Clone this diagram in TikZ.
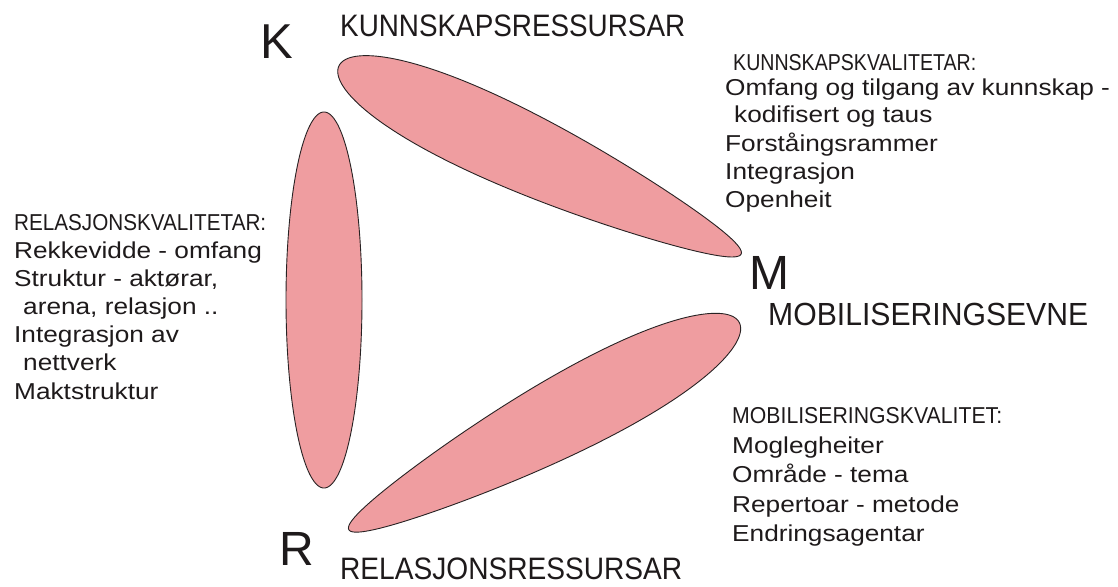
\documentclass[tikz,border=0pt]{standalone}
\usepackage{fontspec}
\usepackage{graphicx}
\setmainfont{Liberation Sans}
\newfontfamily\bodyfont[FakeStretch=1.14]{Liberation Sans}
\definecolor{eggpink}{RGB}{239,157,160}
\definecolor{edgec}{RGB}{40,34,35}
\definecolor{textc}{RGB}{30,26,27}
\newcommand\fitto[2]{\resizebox{#1}{\height}{#2}}
% center x, center y, half length, half width, egg factor, angle
\newcommand\drawegg[6]{%
  \draw[eggstyle] plot[domain=0:360,samples=241,variable=\t]
    ({#1+#3*cos(\t)*cos(#6)-#4*sin(\t)*(1-#5*cos(\t))*sin(#6)},
     {#2+#3*cos(\t)*sin(#6)+#4*sin(\t)*(1-#5*cos(\t))*cos(#6)}) -- cycle;}
\begin{document}
\begin{tikzpicture}[x=1pt,y=-1pt,
  eggstyle/.style={fill=eggpink,draw=edgec,line width=0.9pt},
  bigletter/.style={inner sep=0pt,anchor=base west,text=textc,font=\fontsize{49}{49}\selectfont},
  titletext/.style={inner sep=0pt,anchor=base west,text=textc,font=\fontsize{31}{31}\selectfont},
  headtext/.style={inner sep=0pt,anchor=base west,text=textc,font=\fontsize{23}{23}\selectfont},
  bodytext/.style={inner sep=0pt,anchor=base west,text=textc}]
\useasboundingbox (0,0) rectangle (1118,586);
\fill[white] (0,0) rectangle (1118,586);
% three lobes
\drawegg{540}{160}{222}{38.5}{0.33}{25.06}
\drawegg{324}{300}{188}{38}{0}{90}
\drawegg{544}{426}{221}{38.5}{0.33}{152.04}
% corner letters
\node[bigletter] (K) at (260,59) {K};
\node[bigletter,font=\fontsize{48}{48}\selectfont] (M) at (749.5,289) {M};
\node[bigletter,font=\fontsize{48}{48}\selectfont] (R) at (279,565) {R};
% titles
\node[titletext] (kres) at (340,37) {\fitto{345pt}{KUNNSKAPSRESSURSAR}};
\node[titletext,font=\fontsize{32}{32}\selectfont] (mev) at (768,325) {\fitto{320pt}{MOBILISERINGSEVNE}};
\node[titletext] (rres) at (340,579) {\fitto{342pt}{RELASJONSRESSURSAR}};
% headers
\node[headtext] (kkv) at (733,70) {\fitto{243pt}{KUNNSKAPSKVALITETAR:}};
\node[headtext] (rkv) at (14,230) {\fitto{252pt}{RELASJONSKVALITETAR:}};
\node[headtext] (mkv) at (732,423) {\fitto{270pt}{MOBILISERINGSKVALITET:}};
% bodies
\node[bodytext,font=\bodyfont\fontsize{23}{28}\selectfont] (kbody) at (725,95)
  {\begin{tabular}[t]{@{}l@{}}Omfang og tilgang av kunnskap -\\
   \hspace*{9pt}kodifisert og taus\\ Forståingsrammer\\ Integrasjon\\ Openheit\end{tabular}};
\node[bodytext,font=\bodyfont\fontsize{23}{28.2}\selectfont] (rbody) at (14,258)
  {\begin{tabular}[t]{@{}l@{}}Rekkevidde - omfang\\ Struktur - aktørar,\\
   \hspace*{9pt}arena, relasjon ..\\ Integrasjon av\\ \hspace*{9pt}nettverk\\ Maktstruktur\end{tabular}};
\node[bodytext,font=\bodyfont\fontsize{23}{29.5}\selectfont] (mbody) at (732,453)
  {\begin{tabular}[t]{@{}l@{}}Moglegheiter\\ Område - tema\\ Repertoar - metode\\ Endringsagentar\end{tabular}};
\end{tikzpicture}
\end{document}
